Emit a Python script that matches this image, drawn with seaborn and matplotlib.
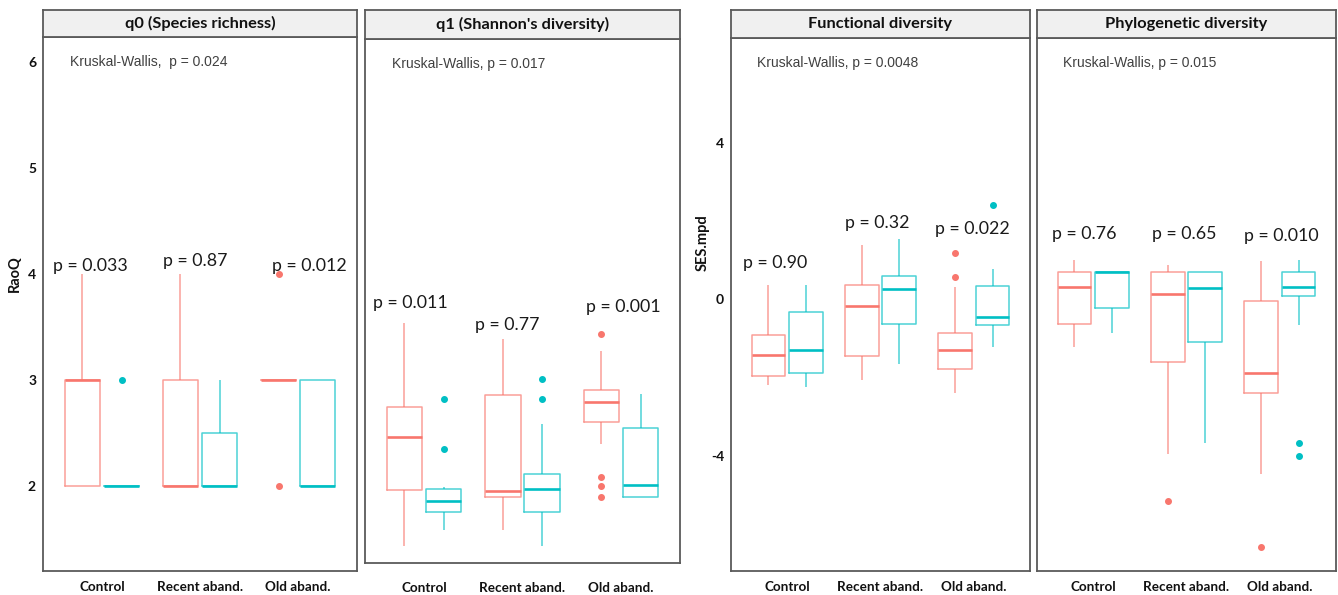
import numpy as np
import pandas as pd
import seaborn as sns
import matplotlib.pyplot as plt

# Categories
SITES = ["Control", "Recent aband.", "Old aband."]
GROUPS = ["g1", "g2"]
COLORS = ["#F8766D", "#00BFC4"]

# q0 (Species richness), RaoQ - one list per site (Control, Recent, Old)
q0_red = [[2, 2, 2, 3, 3, 3, 3, 3, 4],
          [2, 2, 2, 2, 2, 3, 3, 3, 4],
          [2, 3, 3, 3, 3, 3, 3, 3, 4]]
q0_cyan = [[2, 2, 2, 2, 2, 2, 2, 2, 3],
           [2, 2, 2, 2, 2, 2, 2.5, 2.5, 3],
           [2, 2, 2, 2, 2, 3, 3, 3, 3]]

# q1 (Shannon's diversity), RaoQ
q1_red = [[1.36, 1.62, 1.90, 2.15, 2.41, 2.55, 2.70, 3.05, 3.51],
          [1.52, 1.70, 1.83, 1.86, 1.89, 2.40, 2.82, 3.10, 3.35],
          [1.83, 1.94, 2.03, 2.34, 2.56, 2.62, 2.68, 2.72, 2.75,
           2.78, 2.81, 2.84, 2.86, 2.98, 3.10, 3.24, 3.40]]
q1_cyan = [[1.52, 1.60, 1.65, 1.69, 1.73, 1.77, 1.80, 1.84, 1.88, 1.91, 1.93, 2.30, 2.78],
           [1.36, 1.50, 1.60, 1.69, 1.78, 1.85, 1.91, 1.96, 2.01, 2.06, 2.54, 2.78, 2.97],
           [1.83, 1.83, 1.83, 1.88, 1.95, 2.20, 2.50, 2.65, 2.83]]

# Functional diversity, SES.mpd
fd_red = [[-2.19, -2.05, -1.96, -1.70, -1.43, -1.15, -0.92, -0.30, 0.36],
          [-2.05, -1.75, -1.45, -0.80, -0.18, 0.10, 0.38, 0.90, 1.38],
          [-2.39, -2.10, -1.90, -1.77, -1.60, -1.45, -1.28, -1.10, -0.95, -0.85, 0.31, 0.58, 1.19]]
fd_cyan = [[-2.25, -2.05, -1.87, -1.55, -1.28, -0.80, -0.31, 0.05, 0.38],
           [-1.66, -1.10, -0.62, -0.15, 0.27, 0.45, 0.61, 1.05, 1.55],
           [-1.22, -0.90, -0.65, -0.55, -0.45, -0.05, 0.33, 0.78, 2.42]]

# Phylogenetic diversity, SES.mpd
pd_red = [[-1.22, -0.90, -0.62, -0.15, 0.31, 0.50, 0.70, 0.85, 1.01],
          [-5.15, -3.94, -1.60, -0.70, 0.15, 0.45, 0.70, 0.80, 0.87],
          [-6.33, -4.47, -2.39, -2.10, -1.87, -1.00, -0.04, 0.50, 0.97]]
pd_cyan = [[-0.86, -0.50, -0.21, 0.30, 0.71, 0.71, 0.71, 0.71, 0.71],
           [-3.67, -2.30, -1.10, -0.40, 0.30, 0.55, 0.70, 0.70, 0.70],
           [-4.00, -3.66, -0.66, 0.08, 0.15, 0.22, 0.31, 0.45, 0.60, 0.70, 0.80, 0.90, 1.01]]

titles = ["q0 (Species richness)", "q1 (Shannon's diversity)",
          "Functional diversity", "Phylogenetic diversity"]
kw_labels = ["Kruskal-Wallis,  p = 0.024", "Kruskal-Wallis, p = 0.017",
             "Kruskal-Wallis, p = 0.0048", "Kruskal-Wallis, p = 0.015"]
pair_labels = [["p = 0.033", "p = 0.87", "p = 0.012"],
               ["p = 0.011", "p = 0.77", "p = 0.001"],
               ["p = 0.90", "p = 0.32", "p = 0.022"],
               ["p = 0.76", "p = 0.65", "p = 0.010"]]
# label positions (x in category units, y in data units)
pair_x = [[-0.50, 0.62, 1.73], [-0.52, 0.52, 1.64], [-0.47, 0.62, 1.58], [-0.44, 0.63, 1.62]]
pair_y = [[4.08, 4.13, 4.08], [3.70, 3.49, 3.66], [0.93, 1.95, 1.80], [1.68, 1.66, 1.63]]


def long_df(red, cyan):
    rows = []
    for g, series in zip(GROUPS, (red, cyan)):
        for site, vals in zip(SITES, series):
            for v in vals:
                rows.append((site, g, v))
    return pd.DataFrame(rows, columns=["site", "group", "value"])


sns.set_style("white")
plt.rcParams['font.family'] = ['Lato', 'DejaVu Sans']
plt.rcParams['axes.unicode_minus'] = False

W, H = 1338, 595
fig = plt.figure(figsize=(W / 100, H / 100), dpi=100)


def rect(l, t, r, b):
    return [l / W, 1 - b / H, (r - l) / W, (b - t) / H]


# pixel boxes: panel (l, t, r, b)
layout = [(43, 37, 357, 571), (365, 39, 680, 563), (731, 38, 1030, 571), (1037, 38, 1336, 571)]
xpads = [4, 11, 4, 4]
ylims = [(1.2, 6.24), (1.2, 6.24), (-6.94, 6.68), (-6.94, 6.68)]
yticks = [[2, 3, 4, 5, 6], [], [-4, 0, 4], []]
data = [(q0_red, q0_cyan), (q1_red, q1_cyan), (fd_red, fd_cyan), (pd_red, pd_cyan)]
frame = "#5a5a5a"

for i, (l, t, r, b) in enumerate(layout):
    ax = fig.add_axes(rect(l, t, r, b))
    df = long_df(*data[i])
    sns.boxplot(data=df, x="site", y="value", hue="group", order=SITES, hue_order=GROUPS,
                palette=COLORS, saturation=1, fill=False, width=0.8, gap=0.1,
                linewidth=1.1, whis=1.5, legend=False, ax=ax, showcaps=False,
                boxprops=dict(alpha=0.7), whiskerprops=dict(alpha=0.7),
                medianprops=dict(linewidth=1.9),
                flierprops=dict(marker="o", markersize=4))
    for line in ax.lines:
        if line.get_marker() == "o":
            line.set_markerfacecolor(line.get_markeredgecolor())
    ax.set_xlim(-0.6, 2.6)
    ax.set_ylim(*ylims[i])
    ax.set_xlabel("")
    ax.set_ylabel("")
    ax.set_yticks(yticks[i])
    ax.tick_params(axis="both", length=3, width=0.8, color=frame, pad=2,
                   labelsize=10, labelcolor="#111111")
    ax.tick_params(axis="x", pad=xpads[i], labelsize=9.7)
    for lab in ax.get_xticklabels() + ax.get_yticklabels():
        lab.set_fontweight("bold")
    if not yticks[i]:
        ax.tick_params(axis="y", left=False)
    for sp in ax.spines.values():
        sp.set_color(frame)
        sp.set_linewidth(1.3)

    ax.text(0.086, 1 - 25 / (b - t), kw_labels[i], transform=ax.transAxes,
            ha="left", va="center", fontsize=10, color="#404040",
            family=["Liberation Sans", "DejaVu Sans"])
    for lbl, px, py in zip(pair_labels[i], pair_x[i], pair_y[i]):
        ax.text(px, py, lbl, ha="left", va="center", fontsize=12.8, color="#1a1a1a")

    # facet strip
    sax = fig.add_axes(rect(l, 10, r, t))
    sax.set_facecolor("#F0F0F0")
    sax.set_xticks([])
    sax.set_yticks([])
    for sp in sax.spines.values():
        sp.set_color(frame)
        sp.set_linewidth(1.3)
    sax.text(0.5, 0.5, titles[i], transform=sax.transAxes, ha="center", va="center",
             fontsize=11.8, fontweight="bold", color="#111111")

fig.text(15 / W, 1 - 274 / H, "RaoQ", rotation=90, ha="center", va="center",
         fontsize=10.5, fontweight="bold", color="#111111")
fig.text(703 / W, 1 - 243 / H, "SES.mpd", rotation=90, ha="center", va="center",
         fontsize=10.5, fontweight="bold", color="#111111")

fig.savefig("out.png", dpi=100)
